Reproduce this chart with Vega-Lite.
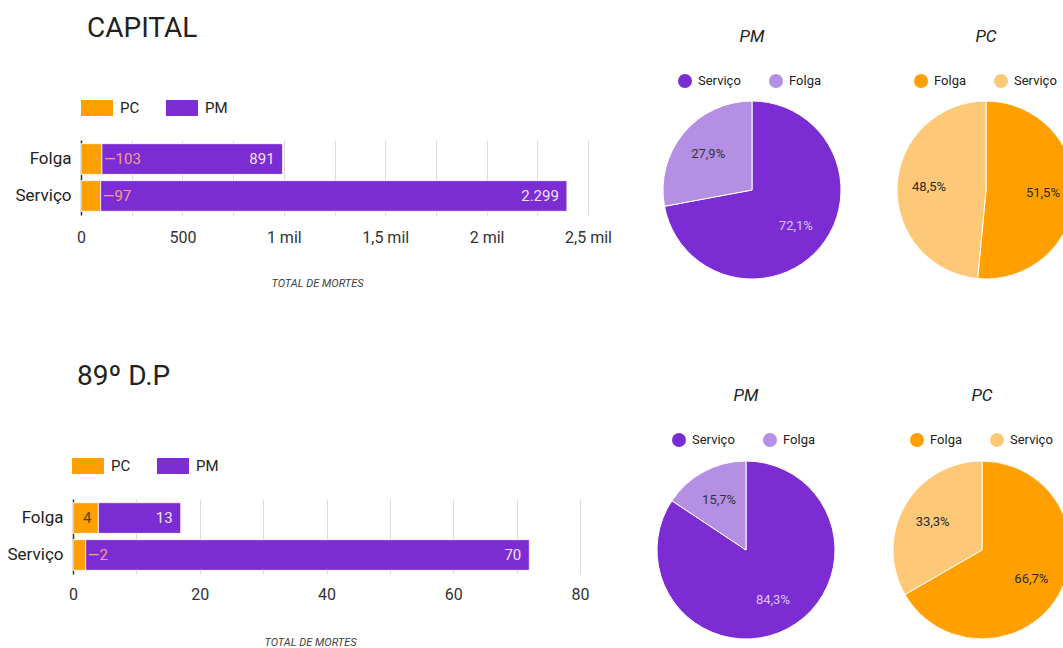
{
  "$schema": "https://vega.github.io/schema/vega-lite/v6.json",
  "padding": {"left": 3, "top": 15, "right": 0, "bottom": 0},
  "background": "white",
  "config": {
    "font": "Roboto",
    "view": {"stroke": null},
    "locale": {"number": {"decimal": ",", "thousands": ".", "grouping": [3], "currency": ["R$", ""]}}
  },
  "datasets": {
    "capital_barras": [
      {"situacao": "Folga", "corp": "PC", "mortes": 103},
      {"situacao": "Folga", "corp": "PM", "mortes": 891},
      {"situacao": "Serviço", "corp": "PC", "mortes": 97},
      {"situacao": "Serviço", "corp": "PM", "mortes": 2299}
    ],
    "capital_pm": [
      {"situacao": "Serviço", "mortes": 2299, "pct": 0.721},
      {"situacao": "Folga", "mortes": 891, "pct": 0.279}
    ],
    "capital_pc": [
      {"situacao": "Folga", "mortes": 103, "pct": 0.515},
      {"situacao": "Serviço", "mortes": 97, "pct": 0.485}
    ],
    "dp_barras": [
      {"situacao": "Folga", "corp": "PC", "mortes": 4},
      {"situacao": "Folga", "corp": "PM", "mortes": 13},
      {"situacao": "Serviço", "corp": "PC", "mortes": 2},
      {"situacao": "Serviço", "corp": "PM", "mortes": 70}
    ],
    "dp_pm": [
      {"situacao": "Serviço", "mortes": 70, "pct": 0.843},
      {"situacao": "Folga", "mortes": 13, "pct": 0.157}
    ],
    "dp_pc": [
      {"situacao": "Folga", "mortes": 4, "pct": 0.667},
      {"situacao": "Serviço", "mortes": 2, "pct": 0.333}
    ]
  },
  "columns": 1,
  "bounds": "full",
  "spacing": 75,
  "resolve": {"scale": {"color": "independent", "x": "independent", "y": "independent", "theta": "independent"}, "legend": {"color": "independent"}},
  "concat": [
    {
      "columns": 2,
      "bounds": "full",
      "spacing": 49,
      "resolve": {"scale": {"color": "independent", "x": "independent", "y": "independent", "theta": "independent"}, "legend": {"color": "independent"}},
      "concat": [
        {
          "data": {"name": "capital_barras"},
          "width": 507,
          "height": 75,
          "title": {"text": "CAPITAL", "anchor": "start", "frame": "group", "dx": 6, "fontSize": 28, "fontWeight": "normal", "color": "#212121", "offset": 49},
          "transform": [{"stack": "mortes", "groupby": ["situacao"], "sort": [{"field": "corp", "order": "ascending"}], "as": ["m0", "m1"]}],
          "encoding": {
            "y": {"field": "situacao", "type": "nominal", "sort": ["Folga", "Serviço"], "title": null,
              "scale": {"paddingInner": 0.17, "paddingOuter": 0.1},
              "axis": {"domain": true, "domainColor": "#333333", "domainWidth": 1.5, "ticks": false, "tickSize": 0, "labelFontSize": 17, "labelColor": "#222222", "labelPadding": 10, "minExtent": 78, "maxExtent": 78, "grid": false}}
          },
          "layer": [
            {
              "mark": {"type": "bar", "stroke": "white", "strokeWidth": 0.8},
              "encoding": {
                "x": {"field": "m0", "type": "quantitative", "scale": {"domain": [0, 2500], "nice": false},
                  "axis": {"title": "TOTAL DE MORTES", "titleFontSize": 11, "titleFontStyle": "italic", "titleFontWeight": "normal", "titleColor": "#424242", "titlePadding": 32, "titleX": 236,
                    "values": [0, 250, 500, 750, 1000, 1250, 1500, 1750, 2000, 2250, 2500],
                    "labelExpr": "datum.value % 500 != 0 ? '' : (datum.value == 0 ? '0' : (datum.value < 1000 ? '500' : replace(format(datum.value / 1000, '.1~f'), '.', ',') + ' mil'))",
                    "labelOverlap": false, "labelFlush": false, "labelFontSize": 16, "labelColor": "#333333", "labelPadding": 14,
                    "ticks": false, "tickSize": 0, "domain": false, "grid": true, "gridColor": "#dcdcdc"}},
                "x2": {"field": "m1"},
                "color": {"field": "corp", "type": "nominal", "scale": {"domain": ["PC", "PM"], "range": ["#FFA000", "#7B2CD2"]},
                  "legend": {"orient": "top", "title": null, "symbolType": "M-1,-0.5H1V0.5H-1Z", "symbolSize": 1024, "symbolStrokeWidth": 0, "labelFontSize": 15, "labelColor": "#222222", "columnPadding": 26, "labelOffset": 7, "offset": 24}}
              }
            },
            {
              "transform": [{"filter": "datum.corp == 'PM'"}],
              "mark": {"type": "text", "align": "right", "dx": -8, "fontSize": 15, "color": "#f1e3f8"},
              "encoding": {
                "x": {"field": "m1", "type": "quantitative", "title": "TOTAL DE MORTES"},
                "text": {"field": "mortes", "type": "quantitative", "format": ",d"}
              }
            },
            {
              "transform": [{"filter": "datum.corp == 'PC'"}],
              "mark": {"type": "text", "align": "left", "dx": 2, "fontSize": 15, "color": "#f4a08c", "text": {"expr": "'—' + datum.mortes"}},
              "encoding": {
                "x": {"field": "m1", "type": "quantitative", "title": "TOTAL DE MORTES"}
              }
            }
          ]
        },
        {
          "columns": 2,
          "bounds": "full",
          "spacing": 52,
          "resolve": {"scale": {"color": "independent", "theta": "independent"}, "legend": {"color": "independent"}},
          "concat": [
            {
              "data": {"name": "capital_pm"},
              "width": 178,
              "height": 100,
              "title": {"text": "PM", "fontSize": 17, "fontStyle": "italic", "fontWeight": "normal", "color": "#212121", "offset": 28},
              "encoding": {
                "theta": {"field": "mortes", "type": "quantitative", "stack": true},
                "order": {"field": "mortes", "sort": "descending"}
              },
              "layer": [
                {
                  "mark": {"type": "arc", "outerRadius": 89, "stroke": "white", "strokeWidth": 1},
                  "encoding": {
                    "color": {"field": "situacao", "type": "nominal", "scale": {"domain": ["Serviço", "Folga"], "range": ["#7B2CD2", "#B48FE3"]},
                      "legend": {"orient": "none", "legendX": 15, "legendY": -66, "direction": "horizontal", "title": null, "symbolType": "circle", "symbolSize": 196, "symbolStrokeWidth": 0, "labelFontSize": 13, "labelColor": "#222222", "columnPadding": 28, "labelOffset": 6}}
                  }
                },
                {
                  "mark": {"type": "text", "radius": 57, "fontSize": 13},
                  "encoding": {
                    "detail": {"field": "situacao"},
                    "text": {"field": "pct", "type": "quantitative", "format": ".1%"},
                    "color": {"condition": {"test": "datum.situacao == 'Serviço'", "value": "#dcc6f6"}, "value": "#333333"}
                  }
                }
              ]
            },
            {
              "data": {"name": "capital_pc"},
              "width": 178,
              "height": 100,
              "title": {"text": "PC", "fontSize": 17, "fontStyle": "italic", "fontWeight": "normal", "color": "#212121", "offset": 28},
              "encoding": {
                "theta": {"field": "mortes", "type": "quantitative", "stack": true},
                "order": {"field": "mortes", "sort": "descending"}
              },
              "layer": [
                {
                  "mark": {"type": "arc", "outerRadius": 89, "stroke": "white", "strokeWidth": 1},
                  "encoding": {
                    "color": {"field": "situacao", "type": "nominal", "scale": {"domain": ["Folga", "Serviço"], "range": ["#FFA000", "#FDC878"]},
                      "legend": {"orient": "none", "legendX": 17, "legendY": -66, "direction": "horizontal", "title": null, "symbolType": "circle", "symbolSize": 196, "symbolStrokeWidth": 0, "labelFontSize": 13, "labelColor": "#222222", "columnPadding": 28, "labelOffset": 6}}
                  }
                },
                {
                  "mark": {"type": "text", "radius": 57, "fontSize": 13, "color": "#2a2a2a"},
                  "encoding": {
                    "detail": {"field": "situacao"},
                    "text": {"field": "pct", "type": "quantitative", "format": ".1%"}
                  }
                }
              ]
            }
          ]
        }
      ]
    },
    {
      "columns": 2,
      "bounds": "full",
      "spacing": 66,
      "resolve": {"scale": {"color": "independent", "x": "independent", "y": "independent", "theta": "independent"}, "legend": {"color": "independent"}},
      "concat": [
        {
          "data": {"name": "dp_barras"},
          "width": 507,
          "height": 75,
          "title": {"text": "89º D.P", "anchor": "start", "frame": "group", "dx": -4, "fontSize": 28, "fontWeight": "normal", "color": "#212121", "offset": 59},
          "transform": [{"stack": "mortes", "groupby": ["situacao"], "sort": [{"field": "corp", "order": "ascending"}], "as": ["m0", "m1"]}],
          "encoding": {
            "y": {"field": "situacao", "type": "nominal", "sort": ["Folga", "Serviço"], "title": null,
              "scale": {"paddingInner": 0.17, "paddingOuter": 0.1},
              "axis": {"offset": 8, "domain": true, "domainColor": "#333333", "domainWidth": 1.5, "ticks": false, "tickSize": 0, "labelFontSize": 17, "labelColor": "#222222", "labelPadding": 10, "minExtent": 70, "maxExtent": 70, "grid": false}}
          },
          "layer": [
            {
              "mark": {"type": "bar", "stroke": "white", "strokeWidth": 0.8},
              "encoding": {
                "x": {"field": "m0", "type": "quantitative", "scale": {"domain": [0, 80], "nice": false, "range": [-8, 499]},
                  "axis": {"title": "TOTAL DE MORTES", "titleFontSize": 11, "titleFontStyle": "italic", "titleFontWeight": "normal", "titleColor": "#424242", "titlePadding": 34, "titleX": 229,
                    "values": [0, 10, 20, 30, 40, 50, 60, 70, 80],
                    "labelExpr": "datum.value % 20 != 0 ? '' : datum.label",
                    "labelOverlap": false, "labelFlush": false, "labelFontSize": 16, "labelColor": "#333333", "labelPadding": 12,
                    "ticks": false, "tickSize": 0, "domain": false, "grid": true, "gridColor": "#dcdcdc"}},
                "x2": {"field": "m1"},
                "color": {"field": "corp", "type": "nominal", "scale": {"domain": ["PC", "PM"], "range": ["#FFA000", "#7B2CD2"]},
                  "legend": {"orient": "none", "legendX": -9, "legendY": -49, "direction": "horizontal", "title": null, "symbolType": "M-1,-0.5H1V0.5H-1Z", "symbolSize": 1024, "symbolStrokeWidth": 0, "labelFontSize": 15, "labelColor": "#222222", "columnPadding": 26, "labelOffset": 7}}
              }
            },
            {
              "transform": [{"filter": "datum.corp == 'PM'"}],
              "mark": {"type": "text", "align": "right", "dx": -8, "fontSize": 15, "color": "#f1e3f8"},
              "encoding": {
                "x": {"field": "m1", "type": "quantitative", "title": "TOTAL DE MORTES"},
                "text": {"field": "mortes", "type": "quantitative", "format": ",d"}
              }
            },
            {
              "transform": [{"filter": "datum.corp == 'PC' && datum.situacao == 'Serviço'"}],
              "mark": {"type": "text", "align": "left", "dx": 2, "fontSize": 15, "color": "#f4a08c", "text": {"expr": "'—' + datum.mortes"}},
              "encoding": {
                "x": {"field": "m1", "type": "quantitative", "title": "TOTAL DE MORTES"}
              }
            },
            {
              "transform": [{"filter": "datum.corp == 'PC' && datum.situacao == 'Folga'"}],
              "mark": {"type": "text", "align": "right", "dx": -7, "fontSize": 15, "color": "#5a4300"},
              "encoding": {
                "x": {"field": "m1", "type": "quantitative", "title": "TOTAL DE MORTES"},
                "text": {"field": "mortes", "type": "quantitative", "format": ",d"}
              }
            }
          ]
        },
        {
          "columns": 2,
          "bounds": "full",
          "spacing": 54,
          "resolve": {"scale": {"color": "independent", "theta": "independent"}, "legend": {"color": "independent"}},
          "concat": [
            {
              "data": {"name": "dp_pm"},
              "width": 178,
              "height": 102,
              "title": {"text": "PM", "fontSize": 17, "fontStyle": "italic", "fontWeight": "normal", "color": "#212121", "offset": 28},
              "encoding": {
                "theta": {"field": "mortes", "type": "quantitative", "stack": true},
                "order": {"field": "mortes", "sort": "descending"}
              },
              "layer": [
                {
                  "mark": {"type": "arc", "outerRadius": 89, "stroke": "white", "strokeWidth": 1},
                  "encoding": {
                    "color": {"field": "situacao", "type": "nominal", "scale": {"domain": ["Serviço", "Folga"], "range": ["#7B2CD2", "#B48FE3"]},
                      "legend": {"orient": "none", "legendX": 15, "legendY": -66, "direction": "horizontal", "title": null, "symbolType": "circle", "symbolSize": 196, "symbolStrokeWidth": 0, "labelFontSize": 13, "labelColor": "#222222", "columnPadding": 28, "labelOffset": 6}}
                  }
                },
                {
                  "mark": {"type": "text", "radius": 57, "fontSize": 13},
                  "encoding": {
                    "detail": {"field": "situacao"},
                    "text": {"field": "pct", "type": "quantitative", "format": ".1%"},
                    "color": {"condition": {"test": "datum.situacao == 'Serviço'", "value": "#dcc6f6"}, "value": "#333333"}
                  }
                }
              ]
            },
            {
              "data": {"name": "dp_pc"},
              "width": 178,
              "height": 102,
              "title": {"text": "PC", "fontSize": 17, "fontStyle": "italic", "fontWeight": "normal", "color": "#212121", "offset": 28},
              "encoding": {
                "theta": {"field": "mortes", "type": "quantitative", "stack": true},
                "order": {"field": "mortes", "sort": "descending"}
              },
              "layer": [
                {
                  "mark": {"type": "arc", "outerRadius": 89, "stroke": "white", "strokeWidth": 1},
                  "encoding": {
                    "color": {"field": "situacao", "type": "nominal", "scale": {"domain": ["Folga", "Serviço"], "range": ["#FFA000", "#FDC878"]},
                      "legend": {"orient": "none", "legendX": 17, "legendY": -66, "direction": "horizontal", "title": null, "symbolType": "circle", "symbolSize": 196, "symbolStrokeWidth": 0, "labelFontSize": 13, "labelColor": "#222222", "columnPadding": 28, "labelOffset": 6}}
                  }
                },
                {
                  "mark": {"type": "text", "radius": 57, "fontSize": 13, "color": "#2a2a2a"},
                  "encoding": {
                    "detail": {"field": "situacao"},
                    "text": {"field": "pct", "type": "quantitative", "format": ".1%"}
                  }
                }
              ]
            }
          ]
        }
      ]
    }
  ]
}
